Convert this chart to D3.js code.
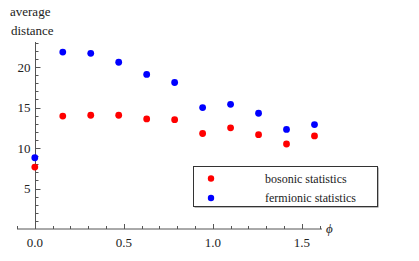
<!DOCTYPE html>
<html>
<head>
<meta charset="utf-8">
<script src="https://cdn.jsdelivr.net/npm/d3@7"></script>
<style>
  body { margin: 0; background: #fff; }
  svg text { font-family: "Liberation Serif", "Times New Roman", serif; fill: #222; }
</style>
</head>
<body>
<div id="chart"></div>
<script>
var svgWidth = 419;
var svgHeight = 261;

// phi values (steps of pi/20)
var phi = [0, 1, 2, 3, 4, 5, 6, 7, 8, 9, 10].map(k => k * Math.PI / 20);
var bosonic = [7.65, 13.95, 14.05, 14.05, 13.6, 13.5, 11.8, 12.5, 11.65, 10.5, 11.5];
var fermionic = [8.8, 21.85, 21.7, 20.6, 19.1, 18.1, 15.0, 15.4, 14.3, 12.3, 12.9];
var seriesNames = ["bosonic statistics", "fermionic statistics"];
var seriesColors = ["#ff0000", "#0000ff"];
var xTicks = [0, 0.5, 1.0, 1.5];
var yTicks = [5, 10, 15, 20];

var svg = d3.select("#chart")
    .append("svg")
    .attr("width", svgWidth)
    .attr("height", svgHeight);

var xScale = d3.scaleLinear()
    .domain([-0.1, 1.613])
    .range([17, 322]);

var yScale = d3.scaleLinear()
    .domain([0, 23.1])
    .range([229, 42]);

var axisColor = "#555";

// x axis
var xAxis = svg.append("g")
    .attr("transform", `translate(0,${yScale(0)})`);
xAxis.append("line")
    .attr("x1", xScale.range()[0]).attr("x2", xScale.range()[1])
    .attr("stroke", axisColor);
var xMinor = d3.range(-1, 17).map(i => i / 10);
xAxis.selectAll(".xminor")
    .data(xMinor)
    .enter()
    .append("line")
    .attr("x1", d => Math.round(xScale(d)) + 0.5)
    .attr("x2", d => Math.round(xScale(d)) + 0.5)
    .attr("y1", 0)
    .attr("y2", d => (Math.abs(d * 2 - Math.round(d * 2)) < 1e-6) ? -5 : -3)
    .attr("stroke", axisColor);
xAxis.selectAll(".xlabel")
    .data(xTicks)
    .enter()
    .append("text")
    .attr("x", d => xScale(d))
    .attr("y", 18)
    .attr("text-anchor", "middle")
    .style("font-size", "13px")
    .text(d => d.toFixed(1));

// y axis
var yAxis = svg.append("g")
    .attr("transform", `translate(${Math.round(xScale(0)) + 0.5},0)`);
yAxis.append("line")
    .attr("y1", yScale.range()[0]).attr("y2", yScale.range()[1])
    .attr("stroke", axisColor);
var yMinor = d3.range(1, 24);
yAxis.selectAll(".yminor")
    .data(yMinor)
    .enter()
    .append("line")
    .attr("y1", d => Math.round(yScale(d)) + 0.5)
    .attr("y2", d => Math.round(yScale(d)) + 0.5)
    .attr("x1", 0)
    .attr("x2", d => d % 5 === 0 ? 5 : 3)
    .attr("stroke", axisColor);
yAxis.selectAll(".ylabel")
    .data(yTicks)
    .enter()
    .append("text")
    .attr("x", -5)
    .attr("y", d => yScale(d))
    .attr("dy", "0.35em")
    .attr("text-anchor", "end")
    .style("font-size", "13px")
    .text(d => d);

// axis labels
svg.append("text")
    .attr("x", 10).attr("y", 16)
    .style("font-size", "13px")
    .text("average");
svg.append("text")
    .attr("x", 11).attr("y", 35)
    .style("font-size", "13px")
    .text("distance");
svg.append("text")
    .attr("x", 326).attr("y", 233)
    .style("font-size", "13px")
    .style("font-style", "italic")
    .text("\u03d5");

// points
var allSeries = [bosonic, fermionic];
allSeries.forEach((vals, si) => {
    svg.selectAll(".pt" + si)
        .data(vals)
        .enter()
        .append("circle")
        .attr("cx", (d, i) => xScale(phi[i]))
        .attr("cy", d => yScale(d))
        .attr("r", 3.4)
        .attr("fill", seriesColors[si]);
});

// legend
var legend = svg.append("g");
legend.append("rect")
    .attr("x", 194.5).attr("y", 167.5)
    .attr("width", 184).attr("height", 40)
    .attr("fill", "#777");
legend.append("rect")
    .attr("x", 193.5).attr("y", 166.5)
    .attr("width", 184).attr("height", 40)
    .attr("fill", "#fff")
    .attr("stroke", "#333");
seriesNames.forEach((name, i) => {
    legend.append("circle")
        .attr("cx", 211)
        .attr("cy", 178.5 + i * 19.5)
        .attr("r", 3.2)
        .attr("fill", seriesColors[i]);
    legend.append("text")
        .attr("x", 265)
        .attr("y", 178.5 + i * 19.5)
        .attr("dy", "0.35em")
        .style("font-size", "12px")
        .text(name);
});
</script>
</body>
</html>
